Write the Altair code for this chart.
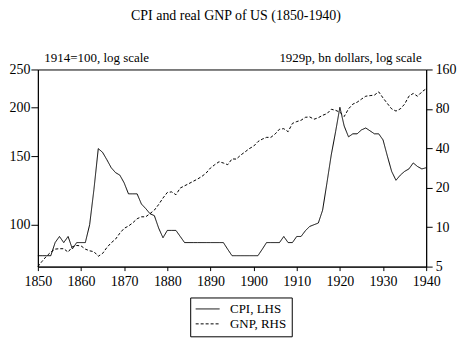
import altair as alt
import pandas as pd

years = list(range(1850, 1941))

cpi = [83.3, 83.3, 83.3, 83.3, 90, 93.3, 90, 93.3, 86.7, 90,
       90, 90, 100, 123.3, 156.7, 153.3, 146.7, 140, 136, 134,
       128, 120, 120, 120, 113, 110, 106.7, 105.5, 98, 92.6,
       96.7, 96.7, 96.7, 93.3, 90, 90, 90, 90, 90, 90,
       90, 90, 90, 90, 86.5, 83.3, 83.3, 83.3, 83.3, 83.3,
       83.3, 83.3, 86.5, 90, 90, 90, 90, 93.3, 90, 90,
       93.3, 93.3, 96.5, 99, 100, 101, 109, 128, 151, 173,
       200, 179, 168, 171, 171, 175, 177, 174, 171, 171,
       165, 150, 137, 130, 134, 137, 139, 144, 141, 139,
       140]

gnp = [5.0, 5.5, 6.0, 6.45, 6.8, 6.85, 6.85, 6.45, 7.1, 7.25,
       7.2, 6.8, 6.6, 6.5, 6.0, 6.3, 7.0, 7.6, 8.1, 9.0,
       9.8, 10.2, 10.8, 11.6, 12.0, 12.0, 12.7, 13.5, 14.9, 16.7,
       18.4, 18.6, 17.7, 19.9, 20.7, 21.5, 22.4, 23.3, 24.4, 25.9,
       28.3, 30.0, 31.6, 30.9, 30.0, 33.2, 33.1, 35.5, 37.5, 39.8,
       41.5, 45.0, 47.0, 48.5, 48.5, 51.5, 56.0, 56.5, 53.6, 62.0,
       64.0, 65.5, 69.0, 69.5, 66.7, 68.5, 71.5, 73.5, 79.5, 78.0,
       75.5, 70.0, 80.0, 87.0, 90.0, 95.0, 100.0, 101.0, 102.0, 108.0,
       97.0, 88.0, 80.0, 77.0, 80.0, 87.0, 100.0, 105.0, 100.0, 108.0,
       114.0]

x_ticks = [1850, 1860, 1870, 1880, 1890, 1900, 1910, 1920, 1930, 1940]
left_ticks = [100, 150, 200, 250]
right_ticks = [5, 10, 20, 40, 80, 160]
series_names = ["CPI, LHS", "GNP, RHS"]
title_text = "CPI and real GNP of US (1850-1940)"
left_note = "1914=100, log scale"
right_note = "1929p, bn dollars, log scale"

df = pd.DataFrame({"year": years, "cpi": cpi, "gnp": gnp})

FONT = "Liberation Serif"

x_enc = alt.X("year:Q",
              scale=alt.Scale(domain=[1850, 1940], nice=False),
              axis=alt.Axis(values=x_ticks, format="d", title=None,
                            tickSize=4, labelPadding=4, grid=False,
                            labelFlush=False, labelOverlap=False))

dash_scale = alt.Scale(domain=series_names, range=[[1, 0], [3, 2]])

legend = alt.Legend(title=None, orient="none", legendX=153, legendY=229,
                    strokeColor="black", padding=5,
                    symbolType="M-1,0L3,0", symbolSize=144,
                    symbolStrokeWidth=1, symbolStrokeColor="black",
                    symbolFillColor="transparent",
                    labelFont=FONT, labelFontSize=13, labelColor="black",
                    rowPadding=1, labelOffset=22, direction="vertical")

cpi_line = alt.Chart(df).mark_line(color="black", strokeWidth=1).encode(
    x=x_enc,
    y=alt.Y("cpi:Q",
            scale=alt.Scale(type="log", domain=[78.1, 250], nice=False),
            axis=alt.Axis(orient="left", values=left_ticks, title=left_note,
                          titleAngle=0, titleAlign="left", titleBaseline="alphabetic",
                          titleX=6, titleY=-8, tickSize=7, labelPadding=1,
                          grid=False)),
    strokeDash=alt.StrokeDash("s:N", scale=dash_scale, legend=legend),
).transform_calculate(s="'" + series_names[0] + "'")

gnp_line = alt.Chart(df).mark_line(color="black", strokeWidth=1).encode(
    x=x_enc,
    y=alt.Y("gnp:Q",
            scale=alt.Scale(type="log", domain=[5, 160], nice=False),
            axis=alt.Axis(orient="right", values=right_ticks, title=right_note,
                          titleAngle=0, titleAlign="right", titleBaseline="alphabetic",
                          titleX=-5, titleY=-8, tickSize=6, labelPadding=3,
                          grid=False)),
    strokeDash=alt.StrokeDash("s:N", scale=dash_scale, legend=legend),
).transform_calculate(s="'" + series_names[1] + "'")

title_mark = alt.Chart(pd.DataFrame({"t": [title_text]})).mark_text(
    font=FONT, fontSize=14, color="black", align="center", baseline="alphabetic"
).encode(text="t:N", x=alt.value(199), y=alt.value(-50))

chart = alt.layer(cpi_line, gnp_line, title_mark).resolve_scale(
    y="independent"
).properties(
    width=390, height=198,
    autosize=alt.AutoSizeParams(type="none"),
    padding={"left": 30, "top": 61, "right": 40, "bottom": 80},
    background="white",
).configure_view(
    stroke="black", strokeWidth=1
).configure_axis(
    labelFont=FONT, labelFontSize=14, labelColor="black",
    titleFont=FONT, titleFontSize=13, titleColor="black", titleFontWeight="normal",
    domainColor="black", tickColor="black", domainWidth=1, tickWidth=1,
)

chart.save("out.html", embed_options={"renderer": "svg", "actions": False})
